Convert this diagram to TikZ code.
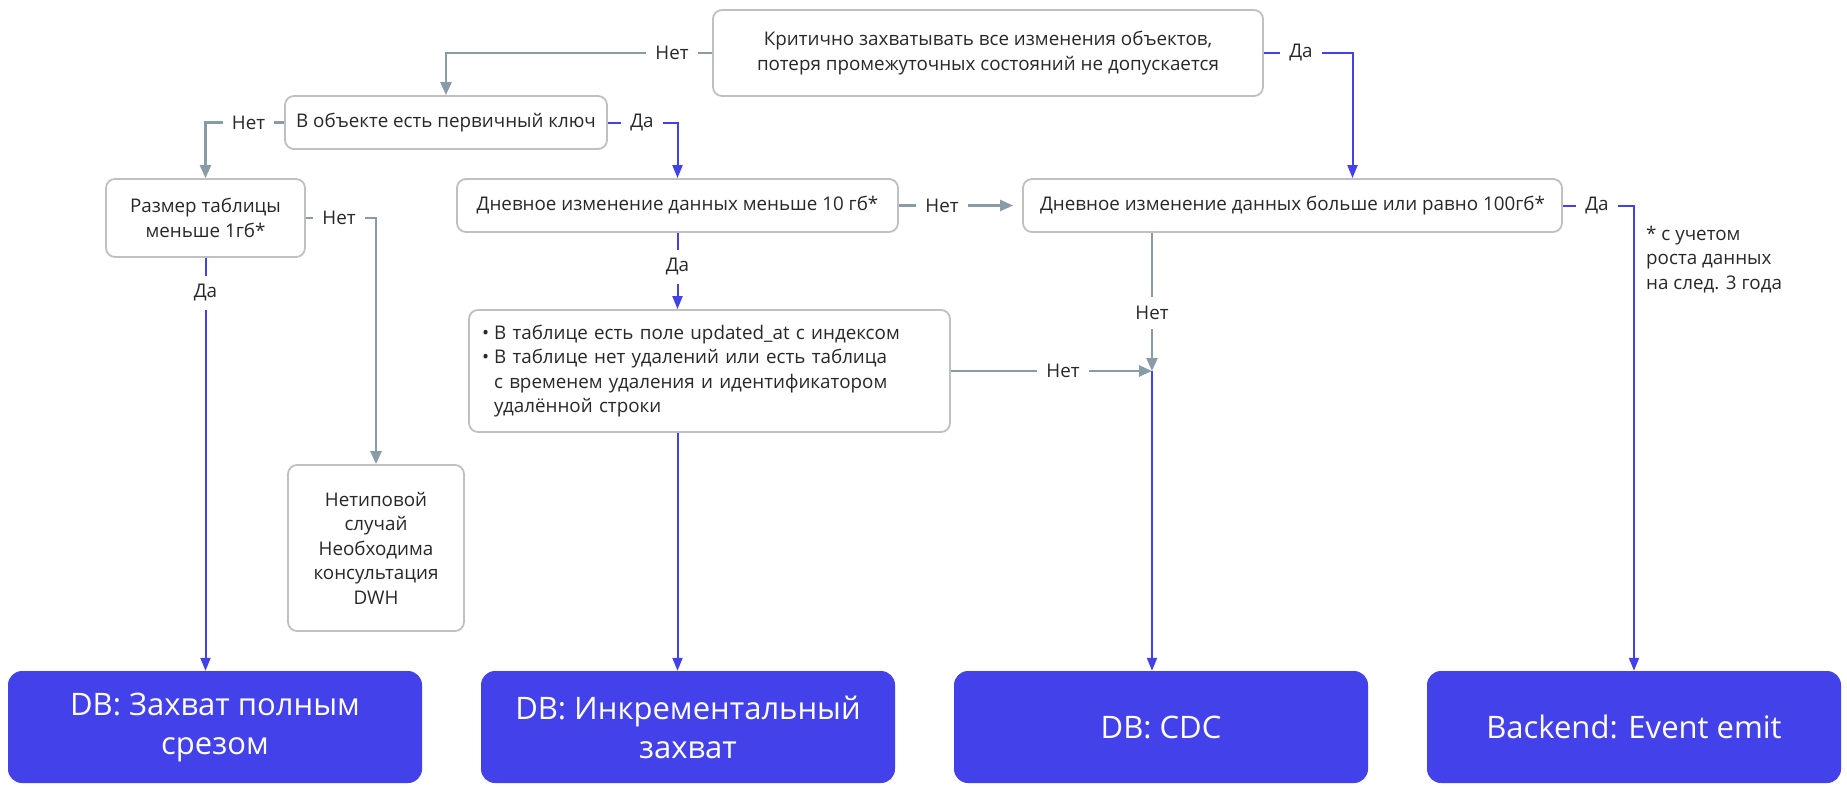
\documentclass[tikz,border=0pt]{standalone}
\usepackage{fontspec}
\setmainfont{Open Sans}
\usetikzlibrary{arrows.meta,calc}
\definecolor{yblue}{RGB}{67,65,233}
\definecolor{cgray}{RGB}{138,155,168}
\definecolor{bgray}{RGB}{192,192,192}
\definecolor{tgray}{RGB}{40,40,40}
\newcommand{\qfont}{\fontsize{18.8}{24.5}\selectfont}
\newcommand{\rfont}{\fontsize{31}{39}\selectfont}
\begin{document}
\begin{tikzpicture}[x=1pt,y=-1pt,
  qbox/.style={draw=bgray,line width=1.8pt,rounded corners=9pt,fill=white,text=tgray,font=\qfont,align=center,inner sep=0pt},
  res/.style={fill=yblue,rounded corners=14pt,text=white,font=\rfont,align=center,inner sep=0pt,minimum width=414pt,minimum height=112pt},
  gline/.style={draw=cgray,line width=2.5pt},
  garrow/.style={gline,-{Triangle[length=13pt,width=11pt]}},
  bline/.style={draw=yblue,line width=2pt},
  barrow/.style={bline,-{Triangle[length=13pt,width=10pt]}},
  lbl/.style={fill=white,text=tgray,font=\qfont,inner xsep=9pt,inner ysep=9pt}]
\useasboundingbox (0,0) rectangle (1847,798);

% decision boxes
\node[qbox,minimum width=550pt,minimum height=86pt] (top) at (988,53)
  {Критично захватывать все изменения объектов,\\потеря промежуточных состояний не допускается};
\node[qbox,minimum width=322pt,minimum height=53pt] (pk) at (446,122.5)
  {В объекте есть первичный ключ};
\node[qbox,minimum width=199pt,minimum height=78pt] (size) at (205.5,218)
  {Размер таблицы\\меньше 1гб*};
\node[qbox,minimum width=441pt,minimum height=53pt] (d10) at (677.5,205.5)
  {Дневное изменение данных меньше 10 гб*};
\node[qbox,minimum width=539pt,minimum height=53pt] (d100) at (1292.5,205.5)
  {Дневное изменение данных больше или равно 100гб*};
\node[qbox,minimum height=122pt,text width=455pt,inner xsep=13pt,align=left] (bul) at (709.5,371)
  {\begin{tabular}{@{}l@{\hspace{5pt}}l@{}}
   • & В таблице есть поле updated\_at с индексом\\
   • & В таблице нет удалений или есть таблица\\
     & с временем удаления и идентификатором\\
     & удалённой строки
   \end{tabular}};
\node[qbox,minimum width=176pt,minimum height=166pt] (atyp) at (376,548)
  {Нетиповой\\случай\\Необходима\\консультация\\DWH};

% result boxes
\node[res] (A) at (215,727) {DB: Захват полным\\срезом};
\node[res] (B) at (688,727) {DB: Инкрементальный\\захват};
\node[res] (C) at (1161,727) {DB: CDC};
\node[res] (D) at (1634,727) {Backend: Event emit};

% footnote
\node[font=\qfont,text=tgray,align=left,anchor=north west,inner sep=0pt] (note) at (1646,226)
  {* с учетом\\роста данных\\на след. 3 года};

% connectors
\draw[garrow] (top.west) -| (pk.north);
\node[lbl] at (672,53) {Нет};
\draw[barrow] (top.east) -| ([xshift=60pt]d100.north);
\node[lbl] at (1301,53) {Да};

\draw[garrow] (pk.west) -| (size.north);
\node[lbl] at (248.5,122.5) {Нет};
\draw[barrow] (pk.east) -| (d10.north);
\node[lbl] at (642,122.5) {Да};

\draw[barrow] (size.south) -- (size.south |- A.north);
\node[lbl] at (205.5,293) {Да};
\draw[garrow] (size.east) -| (atyp.north);
\node[lbl] at (339,218) {Нет};

\draw[garrow,shorten >=9pt] (d10.east) -- (d100.west);
\node[lbl] at (942,205.5) {Нет};
\draw[barrow] (d10.south) -- (d10.south |- bul.north);
\node[lbl] at (677.5,267) {Да};
\draw[barrow] (d10.south |- bul.south) -- (d10.south |- B.north);

\coordinate (jn) at (1152,371);
\draw[garrow] (d100.south -| jn) -- (jn);
\node[lbl] at (1152,313) {Нет};
\draw[garrow] (bul.east) -- (bul.east -| jn);
\node[lbl] at (1063,371) {Нет};
\draw[barrow] (jn) -- (jn |- C.north);

\draw[barrow] (d100.east) -| (D.north);
\node[lbl] at (1597,205.5) {Да};
\end{tikzpicture}
\end{document}
